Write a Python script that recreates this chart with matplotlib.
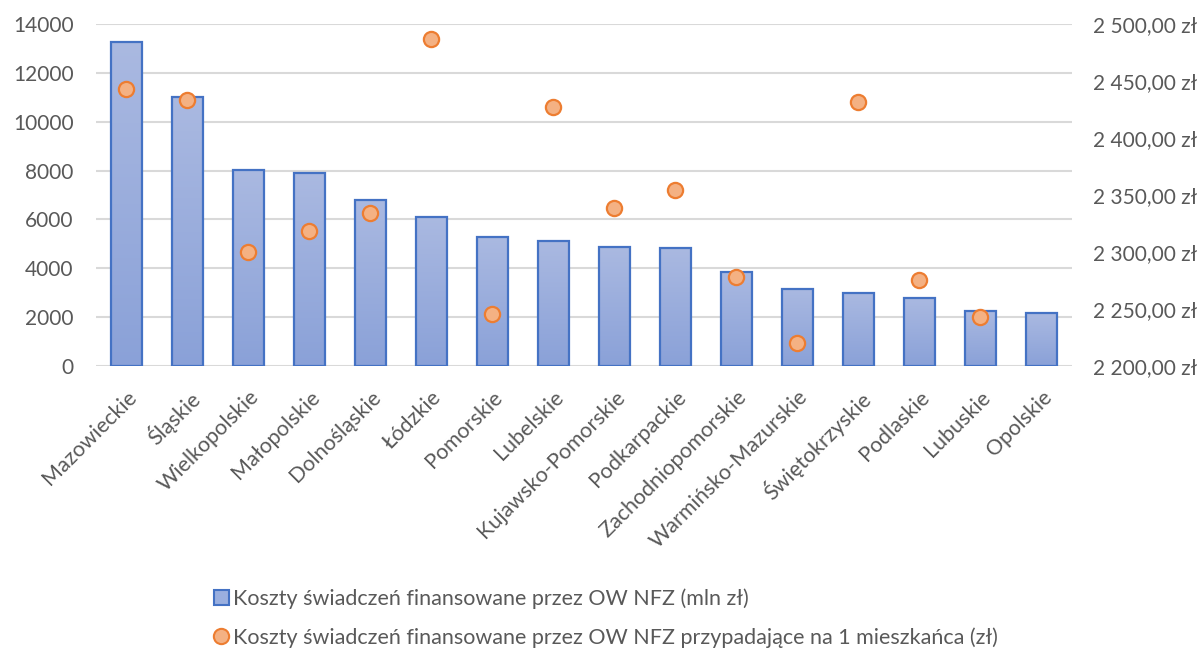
import numpy as np
import matplotlib
matplotlib.use("Agg")
import matplotlib.pyplot as plt
from matplotlib.patches import Patch
from matplotlib.lines import Line2D
from matplotlib.ticker import FuncFormatter

plt.rcParams['font.family'] = ['Lato', 'DejaVu Sans']

# dane
wojewodztwa = ["Mazowieckie", "Śląskie", "Wielkopolskie", "Małopolskie", "Dolnośląskie",
               "Łódzkie", "Pomorskie", "Lubelskie", "Kujawsko-Pomorskie", "Podkarpackie",
               "Zachodniopomorskie", "Warmińsko-Mazurskie", "Świętokrzyskie", "Podlaskie",
               "Lubuskie", "Opolskie"]
koszty_mln = [13250, 11000, 8030, 7900, 6780, 6110, 5280, 5130, 4860, 4845,
              3860, 3165, 3000, 2800, 2265, 2155]
koszty_na_mieszk = [2443, 2433, 2300, 2318, 2334, 2487, 2246, 2427, 2339, 2354,
                    2278, 2220, 2432, 2275, 2243, np.nan]

label_bar = "Koszty świadczeń finansowane przez OW NFZ (mln zł)"
label_pkt = "Koszty świadczeń finansowane przez OW NFZ przypadające na 1 mieszkańca (zł)"

szary = "#595959"
niebieski = "#4472c4"
pomar_brzeg = "#ed7d31"
pomar_fill = "#f4b183"

fig = plt.figure(figsize=(12.04, 6.5), dpi=100)
ax = fig.add_axes([0.0797, 0.437, 0.8106, 0.526])
ax2 = ax.twinx()

x = np.arange(len(wojewodztwa))
bars = ax.bar(x, koszty_mln, width=0.5, facecolor="none", edgecolor=niebieski,
              linewidth=1.6, zorder=3)

# gradient w słupkach
grad = np.linspace(0, 1, 256).reshape(-1, 1)
cmap = matplotlib.colors.LinearSegmentedColormap.from_list("g", ["#8aa1d8", "#aab9e1"])
for b in bars:
    x0, y0 = b.get_x(), b.get_y()
    w, h = b.get_width(), b.get_height()
    im = ax.imshow(grad, extent=[x0, x0 + w, y0, y0 + h], origin="lower",
                   cmap=cmap, aspect="auto", zorder=2)
    im.set_clip_path(b)

ax.set_xlim(-0.5, len(wojewodztwa) - 0.5)
ax.set_ylim(0, 14000)
ax.set_yticks(np.arange(0, 14001, 2000))
ax.grid(axis="y", color="#d9d9d9", linewidth=1.5, zorder=0)
ax.set_axisbelow(True)

ax2.scatter(x, koszty_na_mieszk, s=120, facecolor=pomar_fill, edgecolor=pomar_brzeg,
            linewidth=1.6, zorder=5)
ax2.set_ylim(2200, 2500)
ax2.set_yticks(np.arange(2200, 2501, 50))
ax2.yaxis.set_major_formatter(FuncFormatter(
    lambda v, p: "{:,.2f}".format(v).replace(",", " ").replace(".", ",") + " zł"))

for a in (ax, ax2):
    for s in a.spines.values():
        s.set_visible(False)
    a.tick_params(length=0, labelsize=15, labelcolor=szary)

ax.tick_params(axis="y", pad=16)
ax2.tick_params(axis="y", pad=15)
ax.set_xticks(x)
ax.set_xticklabels(wojewodztwa, rotation=45, ha="right", va="top",
                   rotation_mode="anchor", fontsize=15.5)
ax.tick_params(axis="x", pad=15)

uchwyty = [Patch(facecolor="#9aafdf", edgecolor=niebieski, linewidth=1.5),
           Line2D([], [], marker="o", linestyle="none", markersize=11,
                  markerfacecolor=pomar_fill, markeredgecolor=pomar_brzeg,
                  markeredgewidth=1.5)]
fig.legend(uchwyty, [label_bar, label_pkt], loc="center left",
           bbox_to_anchor=(203 / 1204, 1 - 618 / 650), frameon=False,
           fontsize=15.5, labelcolor=szary, handlelength=0.7, handleheight=0.7,
           handletextpad=0.2, labelspacing=0.85, borderpad=0)

fig.savefig("out.png", dpi=100)
